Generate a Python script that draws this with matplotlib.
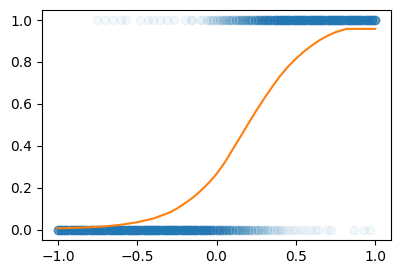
import matplotlib
matplotlib.use("Agg")
import matplotlib.pyplot as plt
import numpy as np

# outcome = 1 row: sparse single points, then a 0.02 grid with how many points sit there
top_single = [-0.754, -0.70, -0.652, -0.60, -0.568, -0.484, -0.431, -0.40, -0.358,
              -0.315, -0.267, -0.20, -0.162, -0.155, -0.105, -0.09]
top_grid = [-0.06, -0.04, -0.02, 0.00, 0.02, 0.04, 0.06, 0.08, 0.10, 0.12, 0.14, 0.16,
            0.18, 0.20, 0.22, 0.24, 0.26, 0.28, 0.30, 0.32, 0.34, 0.36, 0.38, 0.40,
            0.42, 0.44, 0.46, 0.48, 0.50, 0.52, 0.54, 0.56, 0.58, 0.60, 0.62, 0.64,
            0.66, 0.68, 0.70, 0.72, 0.74, 0.76, 0.78, 0.80, 0.82, 0.84, 0.86, 0.88,
            0.90, 0.92, 0.94, 0.96, 0.98, 1.00]
top_count = [2, 2, 3, 3, 3, 4, 4, 5, 5, 6, 6, 7,
             7, 8, 9, 10, 10, 11, 12, 13, 14, 15, 15, 16,
             17, 17, 18, 18, 18, 18, 18, 18, 18, 18, 18, 18,
             18, 18, 18, 18, 18, 18, 18, 18, 18, 18, 18, 18,
             18, 18, 18, 18, 18, 18]

# outcome = 0 row
bot_grid = [-1.00, -0.98, -0.96, -0.94, -0.92, -0.90, -0.88, -0.86, -0.84, -0.82,
            -0.80, -0.78, -0.76, -0.74, -0.72, -0.70, -0.68, -0.66, -0.64, -0.62,
            -0.60, -0.58, -0.56, -0.54, -0.52, -0.50, -0.48, -0.46, -0.44, -0.42,
            -0.40, -0.38, -0.36, -0.34, -0.32, -0.30, -0.28, -0.26, -0.24, -0.22,
            -0.20, -0.18, -0.16, -0.14, -0.12, -0.10, -0.08, -0.06, -0.04, -0.02,
            0.00, 0.02, 0.04, 0.06, 0.08, 0.10, 0.12, 0.14, 0.16, 0.18,
            0.20, 0.22, 0.24, 0.26, 0.28, 0.30, 0.32, 0.34, 0.36, 0.38,
            0.40, 0.42, 0.44, 0.46, 0.48, 0.50]
bot_count = [18, 18, 18, 18, 18, 18, 18, 18, 18, 18,
             18, 18, 18, 18, 18, 18, 18, 18, 18, 18,
             18, 18, 18, 18, 18, 18, 18, 18, 18, 18,
             18, 18, 18, 18, 18, 18, 18, 18, 18, 18,
             18, 18, 18, 18, 18, 17, 16, 15, 14, 13,
             12, 11, 10, 9, 9, 8, 7, 7, 6, 6,
             5, 5, 4, 4, 3, 3, 3, 2, 2, 2,
             2, 1, 1, 1, 1, 1]
bot_single = [0.53, 0.56, 0.59, 0.62, 0.64, 0.695, 0.72, 0.864, 0.927, 0.969]

# fitted probability curve
curve_x = [-1.0, -0.9, -0.8, -0.7, -0.6, -0.5, -0.4, -0.3, -0.25, -0.2, -0.15, -0.1,
           -0.05, 0.0, 0.05, 0.1, 0.15, 0.2, 0.25, 0.3, 0.35, 0.4, 0.45, 0.5, 0.55,
           0.6, 0.65, 0.7, 0.75, 0.82, 1.0]
curve_y = [0.006, 0.008, 0.011, 0.015, 0.023, 0.035, 0.052, 0.08, 0.1, 0.125, 0.152,
           0.185, 0.222, 0.265, 0.318, 0.38, 0.442, 0.505, 0.567, 0.625, 0.68, 0.732,
           0.777, 0.815, 0.849, 0.878, 0.904, 0.925, 0.942, 0.958, 0.958]

x_top = np.concatenate([top_single, np.repeat(top_grid, top_count)])
x_bot = np.concatenate([np.repeat(bot_grid, bot_count), bot_single])
xs = np.concatenate([x_top, x_bot])
ys = np.concatenate([np.ones(len(x_top)), np.zeros(len(x_bot))])

fig, ax = plt.subplots(figsize=(4, 2.74), dpi=100)
fig.subplots_adjust(left=0.105, right=0.9775, bottom=0.124, top=0.965)

ax.scatter(xs, ys, alpha=0.05)
ax.plot(curve_x, curve_y, color="C1")

fig.savefig("out.png")
